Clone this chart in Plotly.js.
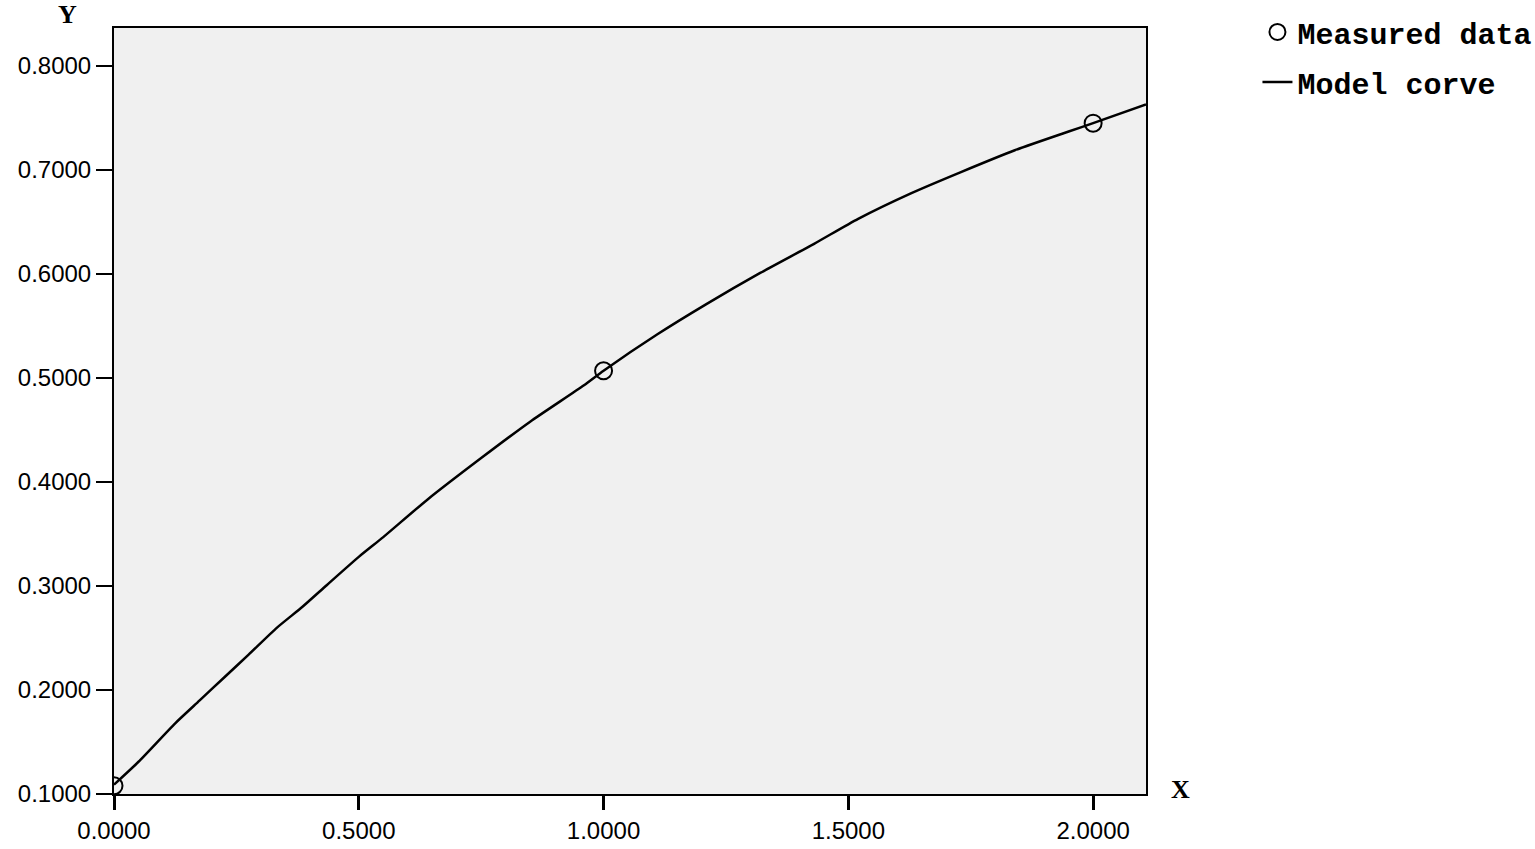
<!DOCTYPE html>
<html>
<head>
<meta charset="utf-8">
<script src="https://cdn.plot.ly/plotly-3.0.1.min.js"></script>
<style>html,body{margin:0;padding:0;background:#fff;}#chart{width:1535px;height:849px;}</style>
</head>
<body>
<div id="chart"></div>
<script>
// Measured data points
const measuredX = [0.0, 1.0, 2.0];
const measuredY = [0.108, 0.507, 0.745];

// Model curve
const modelX = [0, 0.05, 0.125, 0.175, 0.225, 0.275, 0.333, 0.385, 0.435, 0.5, 0.55, 0.64, 0.75, 0.85, 0.96, 1.0, 1.11, 1.21, 1.32, 1.43, 1.52, 1.63, 1.73, 1.84, 1.95, 2.0, 2.108];
const modelY = [0.109, 0.131, 0.168, 0.19, 0.212, 0.234, 0.26, 0.28, 0.301, 0.328, 0.347, 0.383, 0.423, 0.458, 0.493, 0.507, 0.542, 0.571, 0.601, 0.629, 0.653, 0.678, 0.698, 0.719, 0.737, 0.745, 0.763];

const seriesNames = ["Measured data", "Model corve"];
const xTitle = "X";
const yTitle = "Y";

const traces = [
  {
    x: measuredX, y: measuredY, type: "scatter", mode: "markers",
    name: seriesNames[0], legendgroup: "a",
    marker: {symbol: "circle-open", size: 17, color: "#000", line: {width: 2, color: "#000"}}
  },
  {
    x: modelX, y: modelY, type: "scatter", mode: "lines",
    name: seriesNames[1], legendgroup: "b",
    line: {color: "#000", width: 2.5, shape: "spline", smoothing: 0.6}
  }
];

const tickFont = {family: "Liberation Sans, Arial, sans-serif", size: 24, color: "#000"};

const layout = {
  width: 1535, height: 849,
  margin: {l: 114, r: 389, t: 28, b: 55, autoexpand: false},
  paper_bgcolor: "#fff",
  plot_bgcolor: "#f0f0f0",
  showlegend: true,
  legend: {
    x: 1.108, y: 0.993, xanchor: "left", yanchor: "top", yref: "container",
    bgcolor: "rgba(0,0,0,0)",
    traceorder: "grouped", tracegroupgap: 8,
    font: {family: "Liberation Mono, Courier New, monospace", size: 30, color: "#000", weight: "bold"}
  },
  xaxis: {
    range: [0, 2.108], dtick: 0.5, tick0: 0, tickformat: ".4f",
    showgrid: false, zeroline: false,
    showline: true, linecolor: "#000", linewidth: 2, mirror: true,
    ticks: "outside", ticklen: 14, tickwidth: 3, tickcolor: "#000",
    tickfont: tickFont
  },
  yaxis: {
    range: [0.1, 0.8365], dtick: 0.1, tick0: 0.1, tickformat: ".4f",
    showgrid: false, zeroline: false,
    showline: true, linecolor: "#000", linewidth: 2, mirror: true,
    ticks: "outside", ticklen: 16, tickwidth: 2, tickcolor: "#000",
    tickfont: tickFont
  },
  annotations: [
    {text: yTitle, xref: "paper", yref: "paper", x: -0.0455, y: 1.017, xanchor: "center", yanchor: "middle",
     showarrow: false, font: {family: "Liberation Serif, serif", size: 26, color: "#000", weight: "bold"}},
    {text: xTitle, xref: "paper", yref: "paper", x: 1.033, y: 0.006, xanchor: "center", yanchor: "middle",
     showarrow: false, font: {family: "Liberation Serif, serif", size: 26, color: "#000", weight: "bold"}}
  ]
};

Plotly.newPlot("chart", traces, layout, {displayModeBar: false, staticPlot: true});
</script>
</body>
</html>
